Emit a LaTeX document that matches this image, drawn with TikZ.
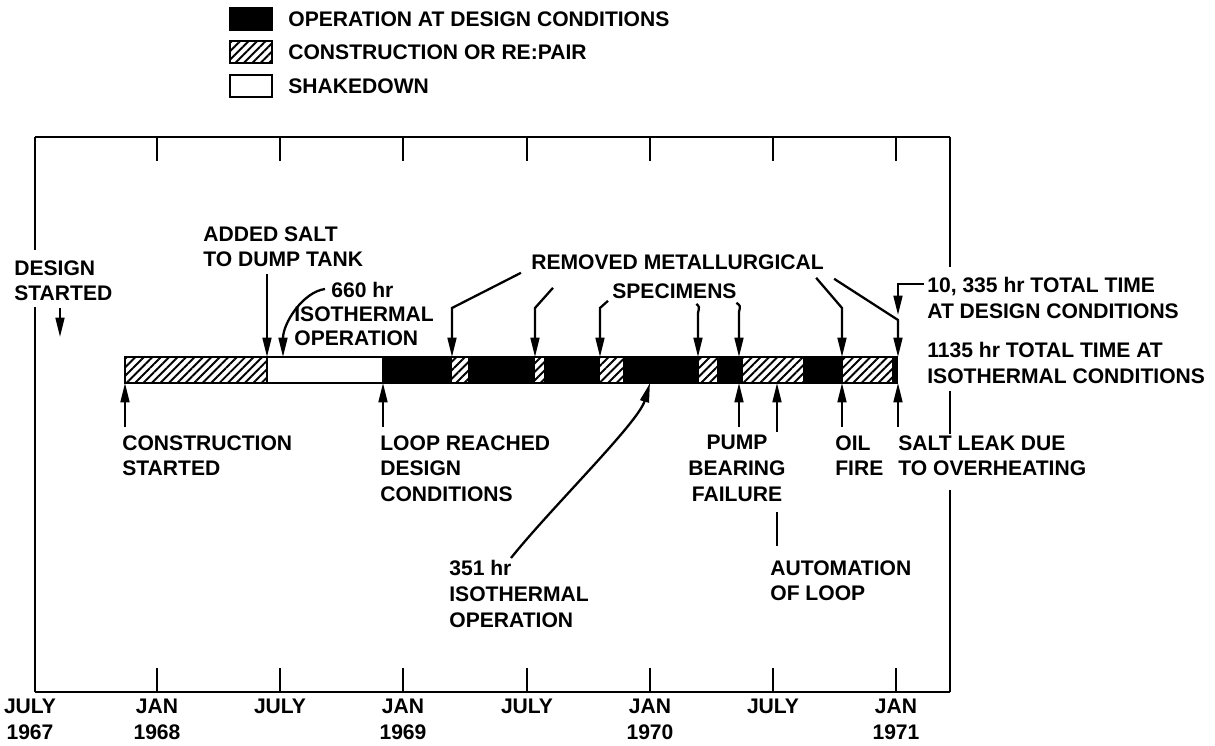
\documentclass[tikz,border=0pt]{standalone}
\usepackage{fontspec}
\setmainfont{Liberation Sans}
\usetikzlibrary{calc,arrows.meta,patterns.meta,positioning}

\begin{document}
\begin{tikzpicture}[
  x=0.02cm, y=-0.02cm,
  font=\bfseries\fontsize{12}{14.7}\selectfont,
  lbl/.style={align=left, inner sep=0pt},
  keybox/.style={draw, line width=1.2pt, minimum width=0.84cm, minimum height=0.44cm, inner sep=0pt},
  hatch/.style={pattern={Lines[angle=45,distance=3.4pt,line width=1.1pt]}},
  opfill/.style={fill=black},
  shake/.style={fill=white},
  frame/.style={line width=1.1pt},
  wire/.style={line width=1.3pt},
  flow/.style={-{Triangle[length=11pt,width=5pt]}, line width=1.3pt},
]
  \useasboundingbox (0,0) rectangle (1215,746);

  % Legend
  \node[keybox, opfill] (keyop) at (251,19) {};
  \node[lbl, anchor=west] (legop) at (288,19) {OPERATION AT DESIGN CONDITIONS};
  \node[keybox, hatch] (keycon) at (251,52) {};
  \node[lbl, anchor=west] (legcon) at (288,52) {CONSTRUCTION OR RE:PAIR};
  \node[keybox] (keysh) at (251,86) {};
  \node[lbl, anchor=west] (legsh) at (288,86) {SHAKEDOWN};

  % Frame with ticks
  \draw[frame] (35,137) -- (950,137);
  \draw[frame] (35,692) -- (950,692);
  \draw[frame] (35,137) -- (35,250);
  \draw[frame] (35,307) -- (35,692);
  \draw[frame] (950,137) -- (950,267);
  \draw[frame] (950,391) -- (950,434);
  \draw[frame] (950,490) -- (950,692);
  \foreach \x in {157,280,403,527,650,773,896} {
    \draw[frame] (\x,137) -- (\x,161);
    \draw[frame] (\x,668) -- (\x,692);
  }

  % Month labels
  \foreach \x/\m/\yr [count=\i] in {30/JULY/1967, 157/JAN/1968, 280/JULY/, 403/JAN/1969,
                                    527/JULY/, 650/JAN/1970, 773/JULY/, 896/JAN/1971}
    \node[lbl, align=center, anchor=north] (mon\i) at (\x,699) {\m\\\yr};

  % Time bar
  \foreach \a/\b/\s in {125/267/hatch, 267/383/shake, 383/452/opfill, 452/468/hatch,
                        468/535/opfill, 535/544/hatch, 544/600/opfill, 600/623/hatch,
                        623/699/opfill, 699/717/hatch, 717/743/opfill, 743/803/hatch,
                        803/843/opfill, 843/892/hatch, 892/897/opfill}
    \path[\s] (\a,357) rectangle (\b,383);
  \draw[frame] (125,357) rectangle (897,383);
  \draw[frame] (267,357) -- (267,383);
  \draw[frame] (383,357) -- (383,383);

  % Arrow tips on the bar
  \coordinate (salttip) at (267,357);
  \coordinate (isotip) at (283,357);
  \coordinate (rm1) at (452,357);
  \coordinate (rm2) at (535,357);
  \coordinate (rm3) at (600,357);
  \coordinate (rm4) at (698,357);
  \coordinate (rm5) at (739,357);
  \coordinate (rm6) at (842,357);
  \coordinate (rm7) at (898,357);
  \coordinate (cstip) at (125,383);
  \coordinate (looptip) at (383,383);
  \coordinate (isobtip) at (650,383);
  \coordinate (pumptip) at (739,383);
  \coordinate (autotip) at (777,383);
  \coordinate (oiltip) at (842,383);
  \coordinate (leaktip) at (898,383);
  \coordinate (dtip) at (60,337);

  % Labels above the bar
  \node[lbl, anchor=north west] (design) at (14,260) {DESIGN\\STARTED};
  \node[lbl, anchor=north west] (added) at (203,226) {ADDED SALT\\TO DUMP TANK};
  \node[lbl, anchor=north west, font=\bfseries\fontsize{12}{13.6}\selectfont] (iso660) at (294,282)
    {\hspace*{0.74cm}660 hr\\ISOTHERMAL\\OPERATION};
  \node[lbl, anchor=west] (removed) at (531,262) {REMOVED METALLURGICAL};
  \node[lbl, anchor=west] (specimens) at (612,291) {SPECIMENS};
  \node[lbl, anchor=north west] (tot1) at (927,277) {10, 335 hr TOTAL TIME\\AT DESIGN CONDITIONS};
  \node[lbl, anchor=north west] (tot2) at (927,342) {1135 hr TOTAL TIME AT\\ISOTHERMAL CONDITIONS};

  % Labels below the bar
  \node[lbl, anchor=north west] (constr) at (122,435) {CONSTRUCTION\\STARTED};
  \node[lbl, anchor=north west] (loop) at (380,435) {LOOP REACHED\\DESIGN\\CONDITIONS};
  \node[lbl, align=center, anchor=north] (pump) at (737,435) {PUMP\\BEARING\\FAILURE};
  \node[lbl, anchor=north west] (oil) at (835,435) {OIL\\FIRE};
  \node[lbl, anchor=north west] (leak) at (898,435) {SALT LEAK DUE\\TO OVERHEATING};
  \node[lbl, anchor=north west] (iso351) at (449,560) {351 hr\\ISOTHERMAL\\OPERATION};
  \node[lbl, anchor=north west] (auto) at (770,560) {AUTOMATION\\OF LOOP};

  % Arrows from above
  \draw[flow] ($(design.south -| dtip)+(0,7)$) -- (dtip);
  \draw[flow] ($(added.south -| salttip)+(0,7)$) -- (salttip);
  \draw[flow] ($(iso660.north west)+(31,7)$) .. controls +(-22,3) and +(0,-34) .. (isotip);
  \draw[flow] ($(removed.south west)+(-10,3)$) -- ($(rm1)+(0,-49)$) -- (rm1);
  \draw[flow] ($(removed.south west)+(22,18)$) -- ($(rm2)+(0,-49)$) -- (rm2);
  \draw[flow] ($(specimens.south west)+(-4,2)$) -- ($(rm3)+(0,-49)$) -- (rm3);
  \draw[flow] ($(specimens.south)+(22,5)$) .. controls +(3,3) .. ($(rm4)+(0,-44)$) -- (rm4);
  \draw[flow] ($(specimens.south)+(62,4)$) .. controls +(4,3) .. ($(rm5)+(0,-45)$) -- (rm5);
  \draw[flow] ($(removed.south east)+(-8,8)$) -- ($(rm6)+(0,-49)$) -- (rm6);
  \draw[flow] ($(removed.south east)+(10,9)$) -- ($(rm7)+(0,-37)$) -- (rm7);
  \coordinate (brk) at ($(tot1.north west)+(-3,7)$);
  \draw[flow] (brk) -- (brk -| rm7) -- ($(rm7)+(0,-42)$);

  % Arrows from below
  \draw[flow] ($(constr.north -| cstip)+(0,-8)$) -- (cstip);
  \draw[flow] ($(loop.north -| looptip)+(0,-8)$) -- (looptip);
  \draw[flow] ($(pump.north -| pumptip)+(0,-8)$) -- (pumptip);
  \draw[flow] ($(pump.north -| autotip)+(0,-3)$) -- (autotip);
  \draw[wire] ($(pump.south -| autotip)+(0,10)$) -- ($(auto.north -| autotip)+(0,-14)$);
  \draw[flow] ($(oil.north -| oiltip)+(0,-8)$) -- (oiltip);
  \draw[flow] ($(leak.north -| leaktip)+(0,-8)$) -- (leaktip);
  \draw[flow] ($(iso351.north west)+(62,-2)$) .. controls +(40,-50) and +(-12,40) .. (isobtip);
\end{tikzpicture}
\end{document}
